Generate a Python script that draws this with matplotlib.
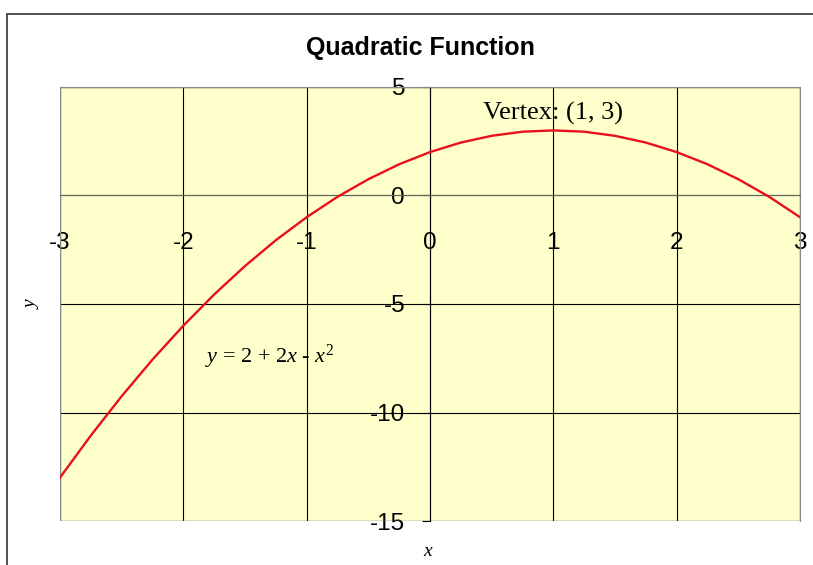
import matplotlib
matplotlib.use('Agg')
import matplotlib.pyplot as plt
from matplotlib.patches import Rectangle

# points
xs = [-3, -2.75, -2.5, -2.25, -2, -1.75, -1.5, -1.25, -1, -0.75, -0.5, -0.25, 0,
      0.25, 0.5, 0.75, 1, 1.25, 1.5, 1.75, 2, 2.25, 2.5, 2.75, 3]
ys = [-13, -11.06, -9.25, -7.56, -6, -4.56, -3.25, -2.06, -1, -0.06, 0.75, 1.44, 2,
      2.44, 2.75, 2.94, 3, 2.94, 2.75, 2.44, 2, 1.44, 0.75, -0.06, -1]
xticks = [-3, -2, -1, 0, 1, 2, 3]
yticks = [5, 0, -5, -10, -15]

plt.rcParams['mathtext.fontset'] = 'custom'
plt.rcParams['mathtext.rm'] = 'Liberation Serif'
plt.rcParams['mathtext.it'] = 'Liberation Serif:italic'

fig = plt.figure(figsize=(8.13, 5.65), dpi=100)
fig.patches.append(Rectangle((7/813, -0.05), 1.2, 1 - 14/565 + 0.05, transform=fig.transFigure,
                             fill=False, edgecolor='#333333', lw=1.2))
ax = fig.add_axes([60/813, 44/565, 740/813, 434/565])
ax.set_facecolor('#FFFFCC')

ax.set_xlim(-3, 3)
ax.set_ylim(-15, 5)
for v in xticks:
    ax.axvline(v, color='black', lw=0.8, zorder=1)
for v in yticks:
    ax.axhline(v, color='black', lw=0.8, zorder=1)

ax.plot(xs, ys, color='#E8101A', lw=1.7, zorder=3)

for s in ['top', 'right']:
    ax.spines[s].set_color('#888888')
ax.spines['left'].set_position(('data', 0))
ax.spines['bottom'].set_position(('data', 0))
ax.spines['left'].set_color('black')
ax.spines['bottom'].set_color('#666666')

ax.set_xticks(xticks)
ax.set_xticklabels([str(v) for v in xticks])
ax.set_yticks(yticks)
ax.set_yticklabels([str(v) for v in yticks])
ax.tick_params(axis='x', length=0, pad=26, labelsize=17.5)
ax.tick_params(axis='y', length=6, pad=12, labelsize=17.5, direction='out')
for lab in ax.get_xticklabels() + ax.get_yticklabels():
    lab.set_family('Liberation Sans')

# outer plot border
ax.add_patch(Rectangle((0, 0), 1, 1, transform=ax.transAxes, fill=False,
                       edgecolor='#888888', lw=1, zorder=2))

fig.text(420/813, 1 - 48/565, 'Quadratic Function', ha='center', va='center',
         fontsize=18, fontweight='bold', family='Liberation Sans')
ax.text(1, 3.8, 'Vertex: (1, 3)', ha='center', va='center', fontsize=19,
        family='Liberation Serif')
ax.text(-1.3, -7.45, r'$y$ = 2 + 2$x$ - $x^{\mathrm{2}}$', ha='center', va='center',
        fontsize=16, family='Liberation Serif')
fig.text(32/813, 1 - 305/565, 'y', rotation=90, ha='center', va='center',
         fontsize=14, style='italic', family='Liberation Serif')
fig.text(428/813, 1 - 552/565, 'x', ha='center', va='center',
         fontsize=14, style='italic', family='Liberation Serif')

fig.savefig('out.png', dpi=100)
